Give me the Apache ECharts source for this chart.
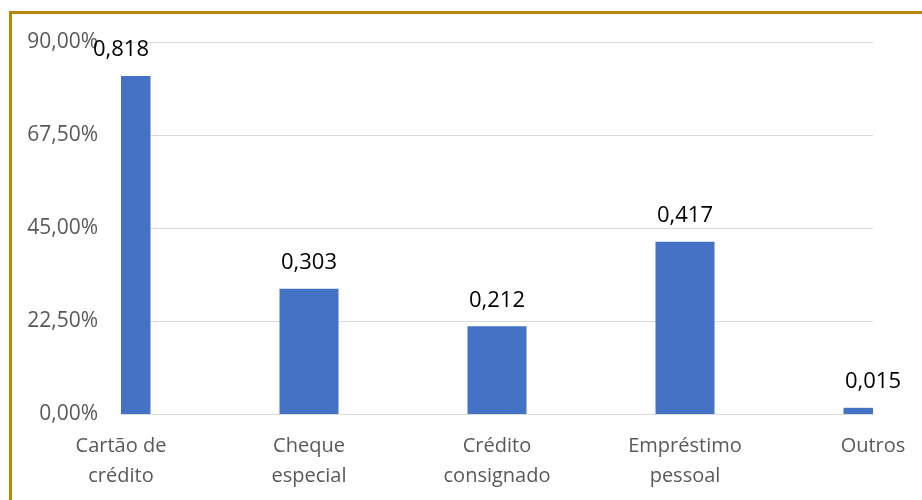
<!DOCTYPE html>
<html>
<head>
<meta charset="utf-8">
<script src="https://cdn.jsdelivr.net/npm/echarts@6/dist/echarts.min.js"></script>
<style>
  html, body { margin: 0; padding: 0; background: #fff; }
  #chart { width: 922px; height: 500px; }
</style>
</head>
<body>
<div id="chart"></div>
<script>
// Modalidades de crédito e participação de cada uma
const categories = ['Cartão de\ncrédito', 'Cheque\nespecial', 'Crédito\nconsignado', 'Empréstimo\npessoal', 'Outros'];
const shares = [0.818, 0.303, 0.212, 0.417, 0.015];
const yTicks = { min: 0, max: 0.9, interval: 0.225 };

const FONT = "'Open Sans', 'Noto Sans', sans-serif";
const BAR_WIDTH = 59;
const fmtPct = v => (v * 100).toFixed(2).replace('.', ',') + '%';
const fmtVal = v => v.toFixed(3).replace('.', ',');

// Bars sit on the category ticks (no boundary gap) and are cut at the plot edges;
// the value label stays centred on the tick.
function renderBar(params, api) {
  const cat = api.value(0);
  const val = api.value(1);
  const top = api.coord([cat, val]);
  const base = api.coord([cat, 0]);
  const cs = params.coordSys;
  const full = { x: top[0] - BAR_WIDTH / 2, y: top[1], width: BAR_WIDTH, height: base[1] - top[1] };
  const shown = echarts.graphic.clipRectByRect(full, { x: cs.x, y: cs.y, width: cs.width, height: cs.height });
  const children = [];
  if (shown) {
    children.push({ type: 'rect', shape: shown, style: { fill: '#4472C4' } });
  }
  children.push({
    type: 'text',
    x: top[0],
    y: top[1] - 15,
    style: {
      text: fmtVal(val),
      fill: '#000000',
      font: "22px " + FONT,
      align: 'center',
      verticalAlign: 'bottom'
    }
  });
  return { type: 'group', children: children };
}

const chart = echarts.init(document.getElementById('chart'), null, { renderer: 'canvas' });
chart.setOption({
  backgroundColor: '#ffffff',
  animation: false,
  textStyle: { fontFamily: FONT },
  graphic: [{
    type: 'rect',
    shape: { x: 10.5, y: 12.5, width: 930, height: 520 },
    style: { fill: 'none', stroke: '#B8860B', lineWidth: 3 },
    silent: true,
    z: 100
  }],
  grid: { left: 121, right: 49, top: 42, bottom: 86, containLabel: false },
  xAxis: {
    type: 'category',
    data: categories,
    boundaryGap: false,
    axisLine: { show: true, lineStyle: { color: '#d9d9d9', width: 1 } },
    axisTick: { show: false },
    axisLabel: {
      interval: 0,
      color: '#595959',
      fontSize: 20,
      fontFamily: FONT,
      lineHeight: 30,
      margin: 17
    },
    splitLine: { show: false }
  },
  yAxis: {
    type: 'value',
    min: yTicks.min,
    max: yTicks.max,
    interval: yTicks.interval,
    axisLine: { show: false },
    axisTick: { show: false },
    axisLabel: {
      color: '#595959',
      fontSize: 21,
      fontFamily: FONT,
      margin: 23,
      formatter: fmtPct
    },
    splitLine: { lineStyle: { color: '#d9d9d9', width: 1 } }
  },
  series: [{
    type: 'custom',
    renderItem: renderBar,
    encode: { x: 0, y: 1 },
    data: shares.map((v, i) => [i, v]),
    clip: false,
    z: 3
  }]
});
</script>
</body>
</html>
